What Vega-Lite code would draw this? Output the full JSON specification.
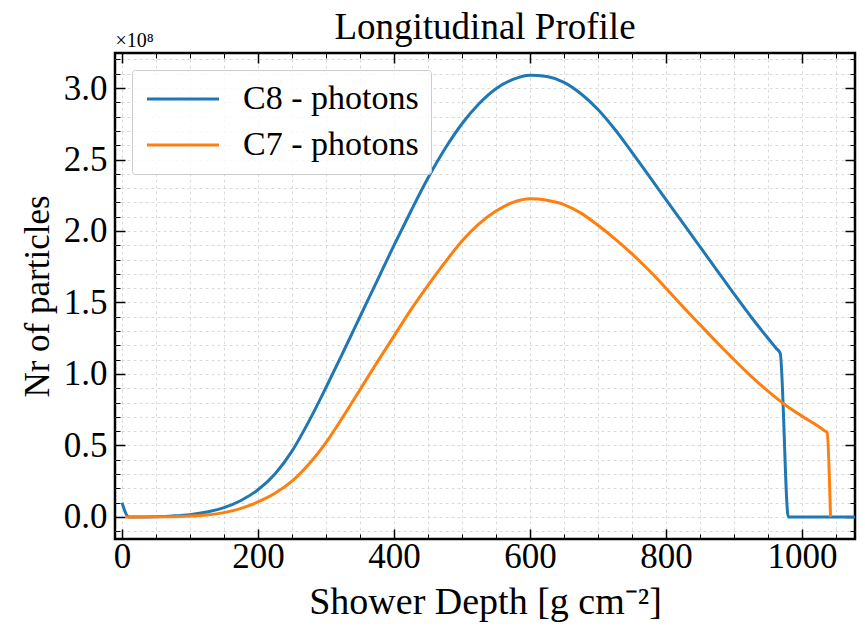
{
  "$schema": "https://vega.github.io/schema/vega-lite/v6.json",
  "width": 740,
  "height": 486,
  "autosize": {"type": "none"},
  "padding": {"left": 115, "top": 53, "right": 10, "bottom": 94},
  "background": "white",
  "title": {"text": "Longitudinal Profile", "font": "Liberation Serif, Times New Roman, serif", "fontSize": 37, "fontWeight": "normal", "color": "black", "anchor": "middle", "frame": "group", "offset": -17},
  "config": {
    "view": {"stroke": "black", "strokeWidth": 2.5},
    "font": "Liberation Serif, Times New Roman, serif",
    "axis": {"domain": false, "tickColor": "black", "labelColor": "black", "titleColor": "black", "labelFont": "Liberation Serif, Times New Roman, serif", "titleFont": "Liberation Serif, Times New Roman, serif", "titleFontWeight": "normal"}
  },
  "datasets": {
    "profile": [
      {"x": 0, "y": 0.10, "series": "C8 - photons"},
      {"x": 10, "y": 0, "series": "C8 - photons"},
      {"x": 25, "y": 0, "series": "C8 - photons"},
      {"x": 50, "y": 0.002, "series": "C8 - photons"},
      {"x": 75, "y": 0.007, "series": "C8 - photons"},
      {"x": 100, "y": 0.016, "series": "C8 - photons"},
      {"x": 125, "y": 0.034, "series": "C8 - photons"},
      {"x": 150, "y": 0.065, "series": "C8 - photons"},
      {"x": 175, "y": 0.115, "series": "C8 - photons"},
      {"x": 200, "y": 0.19, "series": "C8 - photons"},
      {"x": 225, "y": 0.30, "series": "C8 - photons"},
      {"x": 250, "y": 0.46, "series": "C8 - photons"},
      {"x": 275, "y": 0.67, "series": "C8 - photons"},
      {"x": 300, "y": 0.905, "series": "C8 - photons"},
      {"x": 325, "y": 1.15, "series": "C8 - photons"},
      {"x": 350, "y": 1.40, "series": "C8 - photons"},
      {"x": 375, "y": 1.65, "series": "C8 - photons"},
      {"x": 400, "y": 1.90, "series": "C8 - photons"},
      {"x": 425, "y": 2.14, "series": "C8 - photons"},
      {"x": 450, "y": 2.37, "series": "C8 - photons"},
      {"x": 475, "y": 2.575, "series": "C8 - photons"},
      {"x": 500, "y": 2.75, "series": "C8 - photons"},
      {"x": 525, "y": 2.89, "series": "C8 - photons"},
      {"x": 550, "y": 2.995, "series": "C8 - photons"},
      {"x": 575, "y": 3.06, "series": "C8 - photons"},
      {"x": 600, "y": 3.09, "series": "C8 - photons"},
      {"x": 625, "y": 3.08, "series": "C8 - photons"},
      {"x": 650, "y": 3.04, "series": "C8 - photons"},
      {"x": 675, "y": 2.96, "series": "C8 - photons"},
      {"x": 700, "y": 2.85, "series": "C8 - photons"},
      {"x": 725, "y": 2.71, "series": "C8 - photons"},
      {"x": 750, "y": 2.55, "series": "C8 - photons"},
      {"x": 775, "y": 2.385, "series": "C8 - photons"},
      {"x": 800, "y": 2.22, "series": "C8 - photons"},
      {"x": 825, "y": 2.055, "series": "C8 - photons"},
      {"x": 850, "y": 1.89, "series": "C8 - photons"},
      {"x": 875, "y": 1.725, "series": "C8 - photons"},
      {"x": 900, "y": 1.56, "series": "C8 - photons"},
      {"x": 925, "y": 1.40, "series": "C8 - photons"},
      {"x": 950, "y": 1.25, "series": "C8 - photons"},
      {"x": 962, "y": 1.18, "series": "C8 - photons"},
      {"x": 968, "y": 1.145, "series": "C8 - photons"},
      {"x": 980, "y": 0, "series": "C8 - photons"},
      {"x": 1000, "y": 0, "series": "C8 - photons"},
      {"x": 1025, "y": 0, "series": "C8 - photons"},
      {"x": 1050, "y": 0, "series": "C8 - photons"},
      {"x": 1078, "y": 0, "series": "C8 - photons"},
      {"x": 5, "y": 0, "series": "C7 - photons"},
      {"x": 25, "y": 0, "series": "C7 - photons"},
      {"x": 50, "y": 0.0005, "series": "C7 - photons"},
      {"x": 75, "y": 0.002, "series": "C7 - photons"},
      {"x": 100, "y": 0.006, "series": "C7 - photons"},
      {"x": 125, "y": 0.014, "series": "C7 - photons"},
      {"x": 150, "y": 0.03, "series": "C7 - photons"},
      {"x": 175, "y": 0.06, "series": "C7 - photons"},
      {"x": 200, "y": 0.105, "series": "C7 - photons"},
      {"x": 225, "y": 0.165, "series": "C7 - photons"},
      {"x": 250, "y": 0.25, "series": "C7 - photons"},
      {"x": 275, "y": 0.37, "series": "C7 - photons"},
      {"x": 300, "y": 0.52, "series": "C7 - photons"},
      {"x": 325, "y": 0.70, "series": "C7 - photons"},
      {"x": 350, "y": 0.89, "series": "C7 - photons"},
      {"x": 375, "y": 1.08, "series": "C7 - photons"},
      {"x": 400, "y": 1.265, "series": "C7 - photons"},
      {"x": 425, "y": 1.45, "series": "C7 - photons"},
      {"x": 450, "y": 1.62, "series": "C7 - photons"},
      {"x": 475, "y": 1.78, "series": "C7 - photons"},
      {"x": 500, "y": 1.93, "series": "C7 - photons"},
      {"x": 525, "y": 2.05, "series": "C7 - photons"},
      {"x": 550, "y": 2.14, "series": "C7 - photons"},
      {"x": 575, "y": 2.20, "series": "C7 - photons"},
      {"x": 600, "y": 2.225, "series": "C7 - photons"},
      {"x": 625, "y": 2.215, "series": "C7 - photons"},
      {"x": 650, "y": 2.185, "series": "C7 - photons"},
      {"x": 675, "y": 2.125, "series": "C7 - photons"},
      {"x": 700, "y": 2.04, "series": "C7 - photons"},
      {"x": 725, "y": 1.945, "series": "C7 - photons"},
      {"x": 750, "y": 1.84, "series": "C7 - photons"},
      {"x": 775, "y": 1.725, "series": "C7 - photons"},
      {"x": 800, "y": 1.60, "series": "C7 - photons"},
      {"x": 825, "y": 1.47, "series": "C7 - photons"},
      {"x": 850, "y": 1.345, "series": "C7 - photons"},
      {"x": 875, "y": 1.22, "series": "C7 - photons"},
      {"x": 900, "y": 1.10, "series": "C7 - photons"},
      {"x": 925, "y": 0.985, "series": "C7 - photons"},
      {"x": 950, "y": 0.88, "series": "C7 - photons"},
      {"x": 975, "y": 0.785, "series": "C7 - photons"},
      {"x": 1000, "y": 0.705, "series": "C7 - photons"},
      {"x": 1025, "y": 0.63, "series": "C7 - photons"},
      {"x": 1033, "y": 0.603, "series": "C7 - photons"},
      {"x": 1037, "y": 0.59, "series": "C7 - photons"},
      {"x": 1042, "y": 0, "series": "C7 - photons"}
    ]
  },
  "layer": [
    {
      "data": {"name": "profile"},
      "mark": {"type": "point", "opacity": 0},
      "encoding": {
        "x": {"field": "x", "type": "quantitative", "scale": {"domain": [-10.3, 1078], "nice": false, "zero": false},
          "axis": {"orient": "bottom", "values": [-0.0001,50,100,150,200,250,300,350,400,450,500,550,600,650,700,750,800,850,900,950,1000,1050], "labels": false, "tickSize": -5, "tickWidth": 1, "grid": true, "gridDash": [3, 3], "gridColor": "#d0d0d0", "gridWidth": 0.8, "title": null, "zindex": 0}},
        "y": {"field": "y", "type": "quantitative", "scale": {"domain": [-0.1545, 3.245], "nice": false, "zero": false},
          "axis": {"orient": "left", "values": [-0.1,0,0.1,0.2,0.3,0.4,0.5,0.6,0.7,0.8,0.9,1.0,1.1,1.2,1.3,1.4,1.5,1.6,1.7,1.8,1.9,2.0,2.1,2.2,2.3,2.4,2.5,2.6,2.7,2.8,2.9,3.0,3.1,3.2], "labels": false, "tickSize": -5, "tickWidth": 1, "grid": true, "gridDash": [3, 3], "gridColor": "#d0d0d0", "gridWidth": 0.8, "title": null, "zindex": 0}}
      }
    },
    {
      "data": {"name": "profile"},
      "mark": {"type": "point", "opacity": 0},
      "encoding": {
        "x": {"field": "x", "type": "quantitative",
          "axis": {"orient": "top", "values": [0,50,100,150,200,250,300,350,400,450,500,550,600,650,700,750,800,850,900,950,1000,1050], "labels": false, "tickSize": -5, "tickWidth": 1, "grid": false, "title": null}},
        "y": {"field": "y", "type": "quantitative",
          "axis": {"orient": "right", "values": [-0.1,0,0.1,0.2,0.3,0.4,0.5,0.6,0.7,0.8,0.9,1.0,1.1,1.2,1.3,1.4,1.5,1.6,1.7,1.8,1.9,2.0,2.1,2.2,2.3,2.4,2.5,2.6,2.7,2.8,2.9,3.0,3.1,3.2], "labels": false, "tickSize": -5, "tickWidth": 1, "grid": false, "title": null}}
      }
    },
    {
      "data": {"name": "profile"},
      "mark": {"type": "point", "opacity": 0},
      "encoding": {
        "x": {"field": "x", "type": "quantitative",
          "axis": {"orient": "top", "values": [0,200,400,600,800,1000], "labels": false, "tickSize": -10, "tickWidth": 1.5, "grid": false, "title": "×10⁸", "titleAnchor": "start", "titleAlign": "left", "titleFontSize": 20, "titlePadding": 2}},
        "y": {"field": "y", "type": "quantitative",
          "axis": {"orient": "right", "values": [0,0.5,1,1.5,2,2.5,3], "labels": false, "tickSize": -10, "tickWidth": 1.5, "grid": false, "title": null}}
      }
    },
    {
      "data": {"name": "profile"},
      "mark": {"type": "line", "strokeWidth": 3, "interpolate": "monotone"},
      "encoding": {
        "x": {"field": "x", "type": "quantitative",
          "axis": {"orient": "bottom", "values": [0,200,400,600,800,1000], "format": "d", "labelFontSize": 35, "labelPadding": 10, "tickSize": -10, "tickWidth": 1.5, "grid": false, "title": "Shower Depth [g cm⁻²]", "titleFontSize": 38, "titlePadding": 9}},
        "y": {"field": "y", "type": "quantitative",
          "axis": {"orient": "left", "values": [0,0.5,1,1.5,2,2.5,3], "format": ".1f", "labelFontSize": 35, "labelPadding": 18, "tickSize": -10, "tickWidth": 1.5, "grid": false, "title": "Nr of particles", "titleFontSize": 35, "titlePadding": 8}},
        "color": {"field": "series", "type": "nominal", "sort": ["C8 - photons", "C7 - photons"],
          "scale": {"domain": ["C8 - photons", "C7 - photons"], "range": ["#1f77b4", "#ff7f0e"]},
          "legend": {"title": null, "orient": "top-left", "offset": 17, "labelFont": "Liberation Serif, Times New Roman, serif", "labelFontSize": 34, "labelLimit": 400, "labelColor": "black", "symbolType": "M-3,0L3,0", "symbolSize": 576, "symbolStrokeWidth": 3, "symbolOffset": 22, "labelOffset": 43, "rowPadding": 12, "padding": 12, "strokeColor": "#cccccc", "fillColor": "rgba(255,255,255,0.8)", "cornerRadius": 3}}
      }
    }
  ],
  "resolve": {"axis": {"x": "independent", "y": "independent"}}
}
